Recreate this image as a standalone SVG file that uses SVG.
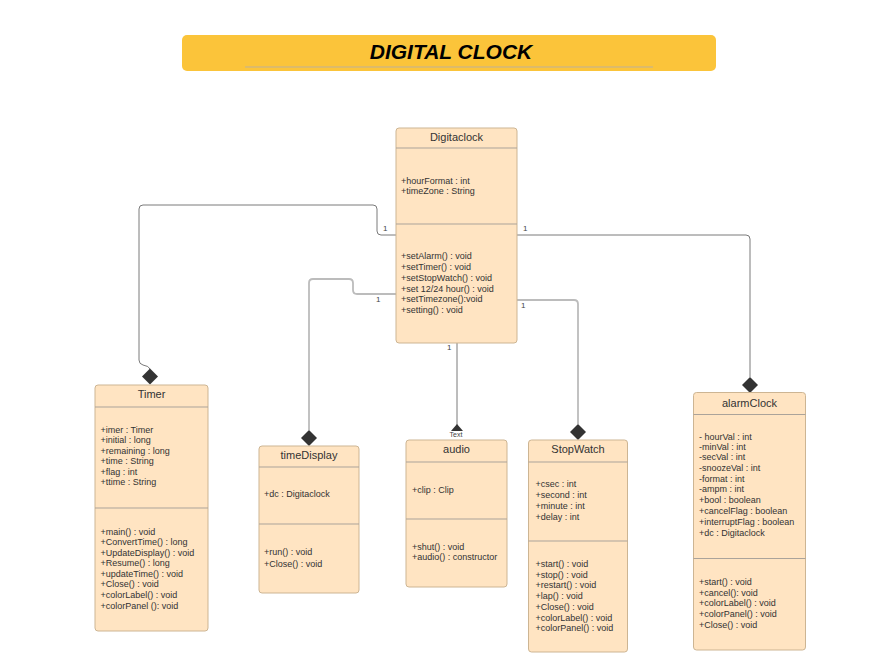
<svg xmlns="http://www.w3.org/2000/svg" width="878" height="672" viewBox="0 0 878 672">
<style>
.box{fill:#FFE4C2;stroke:#CDB593;stroke-width:1}
.div{stroke:#ABA39A;stroke-width:1}
.t{font-family:"Liberation Sans",Arial,sans-serif;font-size:11px;fill:#333;text-anchor:middle}
.m{font-family:"Liberation Sans",Arial,sans-serif;font-size:9px;fill:#333}
.lbl{font-family:"Liberation Sans",Arial,sans-serif;font-size:8px;fill:#444}
.dk{fill:none;stroke:#7a7a7a;stroke-width:1}
.lt{fill:none;stroke:#bcbcbc;stroke-width:1.8}
.dia{fill:#333}
</style>
<rect width="878" height="672" fill="#ffffff"/>
<g id="title">
<rect x="182" y="35" width="534" height="36" rx="5" fill="#FBC43A"/>
<line x1="245" y1="67" x2="653" y2="67" stroke="#bdb19a" stroke-width="1"/>
<text x="451" y="59" font-family="Liberation Sans, Arial, sans-serif" font-size="21" font-weight="bold" font-style="italic" text-anchor="middle" fill="#000">DIGITAL CLOCK</text>
</g>
<g id="connectors">
<path class="dk" d="M396,235 H381 Q377,235 377,231 V209 Q377,205 373,205 H143 Q139,205 139,209 V360 Q139,364 143,365 Q149,366 150,369"/>
<path class="dia" d="M150,368.5 L158,376.5 L150,384.5 L142,376.5 Z"/>
<path class="lt" d="M396,294 H357 Q353,294 353,290 V283 Q353,279 349,279 H313 Q309,279 309,283 V430"/>
<path class="dia" d="M309,430 L317,438 L309,446 L301,438 Z"/>
<path class="dk" d="M457,343 V425"/>
<path class="dia" d="M457,424 L463,431 L451,431 Z"/>
<text x="456" y="437" font-family="Liberation Sans, Arial, sans-serif" font-size="7" fill="#444" text-anchor="middle">Text</text>
<path class="lt" d="M517,300 H574 Q578,300 578,304 V424"/>
<path class="dia" d="M578,424 L586,432 L578,440 L570,432 Z"/>
<path class="dk" d="M517,235 H746 Q750,235 750,239 V377"/>
<path class="dia" d="M750,377 L758,385 L750,393 L742,385 Z"/>
<text class="lbl" x="383" y="231">1</text>
<text class="lbl" x="376" y="302">1</text>
<text class="lbl" x="447" y="350">1</text>
<text class="lbl" x="521" y="308">1</text>
<text class="lbl" x="523" y="231">1</text>
</g>
<g id="Digitaclock">
<rect class="box" x="396" y="128" width="121" height="215" rx="3"/>
<line class="div" x1="396" y1="148" x2="517" y2="148"/>
<line class="div" x1="396" y1="224" x2="517" y2="224"/>
<text class="t" x="456.5" y="141">Digitaclock</text>
<text class="m" x="401" y="183.5">+hourFormat : int</text>
<text class="m" x="401" y="194.2">+timeZone : String</text>
<text class="m" x="401" y="259.2">+setAlarm() : void</text>
<text class="m" x="401" y="270">+setTimer() : void</text>
<text class="m" x="401" y="281">+setStopWatch() : void</text>
<text class="m" x="401" y="291.5">+set 12/24 hour() : void</text>
<text class="m" x="401" y="302.3">+setTimezone():void</text>
<text class="m" x="401" y="313.2">+setting() : void</text>
</g>
<g id="Timer">
<rect class="box" x="95" y="385" width="113" height="246" rx="3"/>
<line class="div" x1="95" y1="407" x2="208" y2="407"/>
<line class="div" x1="95" y1="508" x2="208" y2="508"/>
<text class="t" x="151.5" y="398">Timer</text>
<text class="m" x="100.5" y="432.5">+imer : Timer</text>
<text class="m" x="100.5" y="443">+initial : long</text>
<text class="m" x="100.5" y="453.5">+remaining : long</text>
<text class="m" x="100.5" y="464">+time : String</text>
<text class="m" x="100.5" y="474.8">+flag : int</text>
<text class="m" x="100.5" y="485.3">+ttime : String</text>
<text class="m" x="100.5" y="534.5">+main() : void</text>
<text class="m" x="100.5" y="545">+ConvertTime() : long</text>
<text class="m" x="100.5" y="555.5">+UpdateDisplay() : void</text>
<text class="m" x="100.5" y="566.3">+Resume() : long</text>
<text class="m" x="100.5" y="576.8">+updateTime() : void</text>
<text class="m" x="100.5" y="587.3">+Close() : void</text>
<text class="m" x="100.5" y="598">+colorLabel() : void</text>
<text class="m" x="100.5" y="608.8">+colorPanel (): void</text>
</g>
<g id="timeDisplay">
<rect class="box" x="259" y="446" width="100" height="147" rx="3"/>
<line class="div" x1="259" y1="467" x2="359" y2="467"/>
<line class="div" x1="259" y1="524" x2="359" y2="524"/>
<text class="t" x="309" y="459">timeDisplay</text>
<text class="m" x="264" y="496.5">+dc : Digitaclock</text>
<text class="m" x="264" y="555.2">+run() : void</text>
<text class="m" x="264" y="566.5">+Close() : void</text>
</g>
<g id="audio">
<rect class="box" x="406" y="440" width="101" height="147" rx="3"/>
<line class="div" x1="406" y1="462" x2="507" y2="462"/>
<line class="div" x1="406" y1="519" x2="507" y2="519"/>
<text class="t" x="456.5" y="453.3">audio</text>
<text class="m" x="412" y="492.5">+clip : Clip</text>
<text class="m" x="412" y="549.9">+shut() : void</text>
<text class="m" x="412" y="559.9">+audio() : constructor</text>
</g>
<g id="StopWatch">
<rect class="box" x="528.5" y="440" width="99" height="212" rx="3"/>
<line class="div" x1="528.5" y1="462" x2="627.5" y2="462"/>
<line class="div" x1="528.5" y1="541" x2="627.5" y2="541"/>
<text class="t" x="578" y="453.3">StopWatch</text>
<text class="m" x="535.5" y="486.5">+csec : int</text>
<text class="m" x="535.5" y="497.9">+second : int</text>
<text class="m" x="535.5" y="509.2">+minute : int</text>
<text class="m" x="535.5" y="520.2">+delay : int</text>
<text class="m" x="535.5" y="566.5">+start() : void</text>
<text class="m" x="535.5" y="577.5">+stop() : void</text>
<text class="m" x="535.5" y="588.2">+restart() : void</text>
<text class="m" x="535.5" y="599.2">+lap() : void</text>
<text class="m" x="535.5" y="609.9">+Close() : void</text>
<text class="m" x="535.5" y="620.5">+colorLabel() : void</text>
<text class="m" x="535.5" y="631.2">+colorPanel() : void</text>
</g>
<g id="alarmClock">
<rect class="box" x="693.5" y="392.5" width="112" height="257.5" rx="3"/>
<line class="div" x1="693.5" y1="414.5" x2="805.5" y2="414.5"/>
<line class="div" x1="693.5" y1="558.5" x2="805.5" y2="558.5"/>
<text class="t" x="749.5" y="407.3">alarmClock</text>
<text class="m" x="699" y="439.9">- hourVal : int</text>
<text class="m" x="699" y="449.9">-minVal : int</text>
<text class="m" x="699" y="460.2">-secVal : int</text>
<text class="m" x="699" y="470.9">-snoozeVal : int</text>
<text class="m" x="699" y="481.9">-format  : int</text>
<text class="m" x="699" y="492.2">-ampm : int</text>
<text class="m" x="699" y="503.2">+bool : boolean</text>
<text class="m" x="699" y="514.2">+cancelFlag : boolean</text>
<text class="m" x="699" y="525.2">+interruptFlag : boolean</text>
<text class="m" x="699" y="535.9">+dc : Digitaclock</text>
<text class="m" x="699" y="584.9">+start() : void</text>
<text class="m" x="699" y="595.5">+cancel(): void</text>
<text class="m" x="699" y="606.2">+colorLabel() : void</text>
<text class="m" x="699" y="616.5">+colorPanel() : void</text>
<text class="m" x="699" y="627.5">+Close() : void</text>
</g>
</svg>
